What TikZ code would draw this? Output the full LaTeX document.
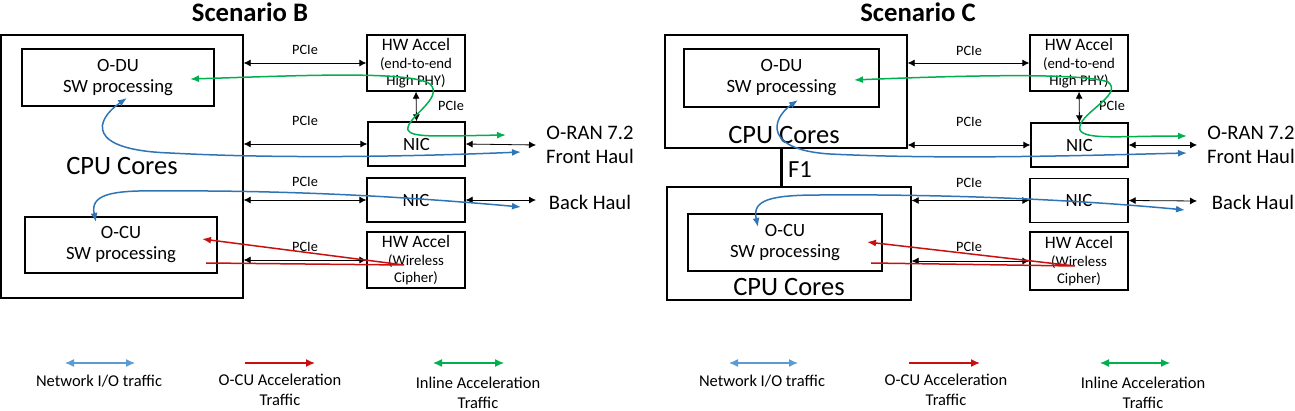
\documentclass[tikz,border=0pt]{standalone}
\usepackage{fontspec}
\setmainfont{Carlito}
\usetikzlibrary{arrows.meta}

\begin{document}
\begin{tikzpicture}[x=1pt,y=-1pt,
  box/.style={draw, line width=1.3pt, inner sep=0pt, align=center},
  boxtxt/.style={font=\fontsize{18.7}{21}\selectfont},
  acctxt/.style={font=\fontsize{14.8}{17}\selectfont},
  cputxt/.style={font=\fontsize{26.5}{30}\selectfont, inner sep=0pt},
  titletxt/.style={font=\bfseries\fontsize{26.7}{30}\selectfont, inner sep=0pt},
  sidetxt/.style={font=\fontsize{20.6}{24}\selectfont, align=center, inner sep=0pt},
  pcielbl/.style={font=\fontsize{14.3}{16}\selectfont, inner sep=0pt},
  legtxt/.style={font=\fontsize{16.5}{20}\selectfont, align=center, inner sep=0pt},
  pcie/.style={{Latex[length=7pt,width=7pt]}-{Latex[length=7pt,width=7pt]}, line width=0.8pt},
  netflow/.style={{Latex[length=9pt,width=7pt]}-{Latex[length=9pt,width=7pt]}, line width=1.5pt, netblue},
  accflow/.style={-{Latex[length=9pt,width=7pt]}, line width=1.5pt, accred},
  inlflow/.style={{Latex[length=9pt,width=7pt]}-{Latex[length=9pt,width=7pt]}, line width=1.5pt, inlgreen},
  legarrow/.style={{Latex[length=9pt,width=8pt]}-{Latex[length=9pt,width=8pt]}, line width=1.2pt},
  legacc/.style={-{Latex[length=9pt,width=8pt]}, line width=1.5pt, accred},
  f1line/.style={line width=3pt}
]
  % colors
  \definecolor{netblue}{RGB}{46,117,182}
  \definecolor{legblue}{RGB}{91,155,213}
  \definecolor{accred}{RGB}{200,16,16}
  \definecolor{inlgreen}{RGB}{0,176,80}

  \useasboundingbox (0,0) rectangle (1295,411);

  % ---------------- Scenario B ----------------
  \node[titletxt] (titB) at (250,12) {Scenario B};
  \node[box, cputxt, minimum width=242pt, minimum height=263pt] (cpuB) at (122,166.5) {CPU Cores};
  \node[box, boxtxt, minimum width=192pt, minimum height=57pt] (oduB) at (118,77.5) {O-DU\\SW processing};
  \node[box, boxtxt, minimum width=192pt, minimum height=56pt] (ocuB) at (121,245) {O-CU\\SW processing};
  \node[box, acctxt, minimum width=98pt, minimum height=56pt] (hwaB) at (416,63)
    {\fontsize{17.5}{19}\selectfont HW Accel\\[1pt](end-to-end\\High PHY)};
  \node[box, boxtxt, minimum width=97pt, minimum height=44pt] (nicfB) at (416.5,144) {NIC};
  \node[box, boxtxt, minimum width=98pt, minimum height=44pt] (nicbB) at (416,200) {NIC};
  \node[box, acctxt, minimum width=98pt, minimum height=56pt] (wcB) at (416,260)
    {\fontsize{17.5}{19}\selectfont HW Accel\\[1pt](Wireless\\Cipher)};

  \node[sidetxt] (fhB) at (590,145) {O-RAN 7.2\\Front Haul};
  \node[sidetxt] (bhB) at (590,202) {Back Haul};
  \coordinate (fhBend) at (536,145);
  \coordinate (bhBend) at (536,200);

  % PCIe links
  \draw[pcie] (cpuB.east |- hwaB.west) -- (hwaB.west);
  \draw[pcie] (cpuB.east |- nicfB.west) -- (nicfB.west);
  \draw[pcie] (cpuB.east |- nicbB.west) -- (nicbB.west);
  \draw[pcie] (cpuB.east |- wcB.west) -- (wcB.west);
  \draw[pcie] (hwaB.south) -- (nicfB.north);
  \draw[pcie] (nicfB.east) -- (fhBend);
  \draw[pcie] (nicbB.east) -- (bhBend);
  \node[pcielbl] (pB1) at (305,50) {PCIe};
  \node[pcielbl] (pB2) at (305,121) {PCIe};
  \node[pcielbl] (pB3) at (305,182) {PCIe};
  \node[pcielbl] (pB4) at (305,247) {PCIe};
  \node[pcielbl] (pB5) at (451,106) {PCIe};

  % traffic
  \draw[inlflow] (190,79) .. controls (290,76) and (410,70) .. (430,84)
    .. controls (445,98) and (405,118) .. (408,130)
    .. controls (411,138) and (440,136) .. (506,135);
  \draw[netflow] (127,98) .. controls (95,120) and (85,150) .. (170,153)
    .. controls (300,160) and (450,155) .. (521,152);
  \draw[netflow] (96,222) .. controls (90,195) and (110,190) .. (160,191)
    .. controls (300,190) and (420,198) .. (521,207);
  \draw[accflow] (206,263) -- (404,265) -- (202,239);

  % legend
  \node[legtxt] (lnetB) at (99,381) {Network I/O traffic};
  \node[legtxt] (laccB) at (280,390) {O-CU Acceleration\\Traffic};
  \node[legtxt] (linlB) at (478,393) {Inline Acceleration\\Traffic};
  \draw[legarrow, legblue] (65,363) -- (135,363);
  \draw[legacc] (245,363) -- (315,363);
  \draw[legarrow, inlgreen] (433,363) -- (504,363);

  % ---------------- Scenario C ----------------
  \node[titletxt] (titC) at (918,12) {Scenario C};
  \node[box, minimum width=242pt, minimum height=113pt] (cpuCt) at (786,91.5) {};
  \node[cputxt] (cpuCtl) at (784,135) {CPU Cores};
  \node[box, minimum width=244pt, minimum height=113pt] (cpuCb) at (789,243.5) {};
  \node[cputxt] (cpuCbl) at (789,287) {CPU Cores};
  \node[box, boxtxt, minimum width=195pt, minimum height=58pt] (oduC) at (781.5,78) {O-DU\\SW processing};
  \node[box, boxtxt, minimum width=194pt, minimum height=57pt] (ocuC) at (785,242.5) {O-CU\\SW processing};
  \node[box, acctxt, minimum width=98pt, minimum height=56pt] (hwaC) at (1079,63)
    {\fontsize{17.5}{19}\selectfont HW Accel\\[1pt](end-to-end\\High PHY)};
  \node[box, boxtxt, minimum width=97pt, minimum height=44pt] (nicfC) at (1079.5,145) {NIC};
  \node[box, boxtxt, minimum width=98pt, minimum height=44pt] (nicbC) at (1079,200.5) {NIC};
  \node[box, acctxt, minimum width=98pt, minimum height=58pt] (wcC) at (1079,261)
    {\fontsize{17.5}{19}\selectfont HW Accel\\[1pt](Wireless\\Cipher)};

  % F1 link
  \draw[f1line] (cpuCt.south -| 781,0) -- (cpuCb.north -| 781,0);
  \node[cputxt, font=\fontsize{24.6}{28}\selectfont] (f1C) at (800,170) {F1};

  \node[sidetxt] (fhC) at (1251,145) {O-RAN 7.2\\Front Haul};
  \node[sidetxt] (bhC) at (1253,202) {Back Haul};
  \coordinate (fhCend) at (1197,145);
  \coordinate (bhCend) at (1197,201);

  % PCIe links
  \draw[pcie] (cpuCt.east |- hwaC.west) -- (hwaC.west);
  \draw[pcie] (cpuCt.east |- nicfC.west) -- (nicfC.west);
  \draw[pcie] (cpuCb.east |- nicbC.west) -- (nicbC.west);
  \draw[pcie] (cpuCb.east |- wcC.west) -- (wcC.west);
  \draw[pcie] (hwaC.south) -- (nicfC.north);
  \draw[pcie] (nicfC.east) -- (fhCend);
  \draw[pcie] (nicbC.east) -- (bhCend);
  \node[pcielbl] (pC1) at (969,51) {PCIe};
  \node[pcielbl] (pC2) at (969,122) {PCIe};
  \node[pcielbl] (pC3) at (969,183) {PCIe};
  \node[pcielbl] (pC4) at (969,247) {PCIe};
  \node[pcielbl] (pC5) at (1112,106) {PCIe};

  % traffic
  \draw[inlflow] (854,80) .. controls (950,76) and (1080,72) .. (1108,82)
    .. controls (1125,95) and (1075,115) .. (1080,130)
    .. controls (1085,140) and (1120,136) .. (1187,136);
  \draw[netflow] (798,100) .. controls (770,120) and (765,150) .. (830,154)
    .. controls (950,160) and (1100,155) .. (1187,153);
  \draw[netflow] (758,227) .. controls (752,200) and (770,195) .. (820,195)
    .. controls (950,194) and (1080,200) .. (1185,210);
  \draw[accflow] (871,263) -- (1075,266) -- (867,242);

  % legend
  \node[legtxt] (lnetC) at (762,381) {Network I/O traffic};
  \node[legtxt] (laccC) at (946,390) {O-CU Acceleration\\Traffic};
  \node[legtxt] (linlC) at (1143,393) {Inline Acceleration\\Traffic};
  \draw[legarrow, legblue] (729,363) -- (798,363);
  \draw[legacc] (909,363) -- (980,363);
  \draw[legarrow, inlgreen] (1100,363) -- (1170,363);
\end{tikzpicture}
\end{document}
